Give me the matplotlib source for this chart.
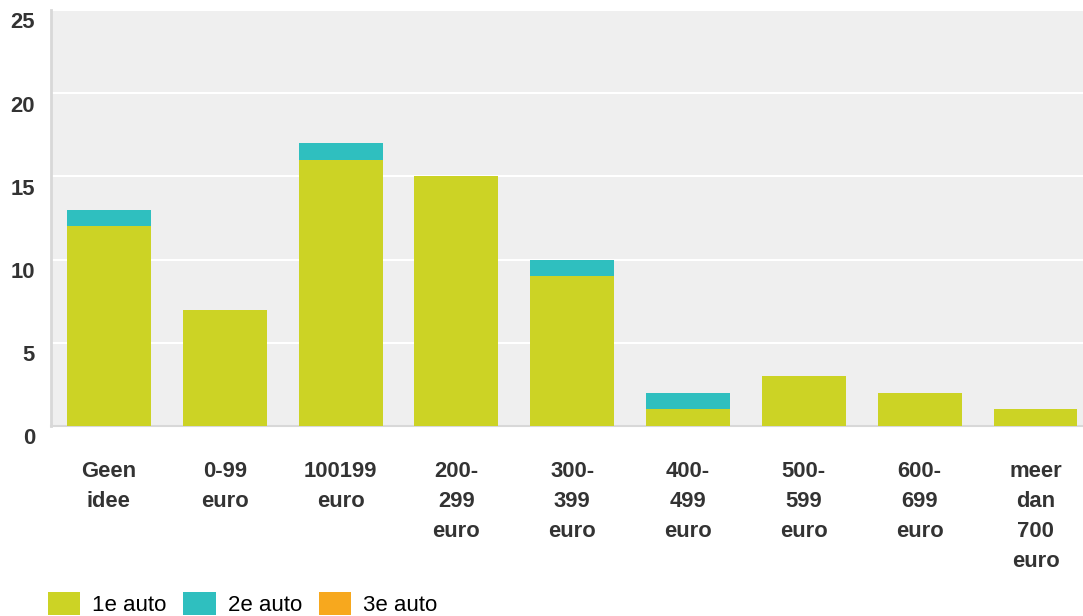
import matplotlib
matplotlib.use('Agg')
import matplotlib.pyplot as plt
import matplotlib.transforms as mtransforms
import numpy as np

plt.rcParams['font.family'] = ['Liberation Sans', 'DejaVu Sans']

# data
categories = ['Geen\nidee', '0-99\neuro', '100199\neuro', '200-\n299\neuro', '300-\n399\neuro',
              '400-\n499\neuro', '500-\n599\neuro', '600-\n699\neuro', 'meer\ndan\n700\neuro']
auto1 = [12, 7, 16, 15, 9, 1, 3, 2, 1]
auto2 = [1, 0, 1, 0, 1, 1, 0, 0, 0]
auto3 = [0, 0, 0, 0, 0, 0, 0, 0, 0]
series_names = ['1e auto', '2e auto', '3e auto']
colors = ['#ccd325', '#2fbfbf', '#f7a81e']
yticks = [0, 5, 10, 15, 20, 25]

fig = plt.figure(figsize=(10.83, 6.16), dpi=100)
ax = fig.add_axes([51/1083, 190/616, 1032/1083, 416/616])
ax.set_facecolor('#efefef')

x = np.arange(len(categories))
w = 0.725
ax.bar(x, auto1, w, color=colors[0], label=series_names[0], zorder=3)
ax.bar(x, auto2, w, bottom=auto1, color=colors[1], label=series_names[1], zorder=3)
bottom3 = np.array(auto1) + np.array(auto2)
ax.bar(x, auto3, w, bottom=bottom3, color=colors[2], label=series_names[2], zorder=3)

ax.set_ylim(0, 25)
ax.set_xlim(-0.5, 8.41)
ax.set_yticks(yticks)
ax.set_yticklabels([])
ax.yaxis.grid(True, color='white', linewidth=1.5, zorder=0)
ax.set_xticks(x)
ax.set_xticklabels(categories, fontsize=15.8, fontweight='bold', color='#333333',
                   linespacing=1.56, va='top')
ax.tick_params(axis='both', length=0)
ax.tick_params(axis='x', pad=25)

# y labels sit a bit below their grid line
offset = mtransforms.ScaledTranslation(-16/100, -13/100, fig.dpi_scale_trans)
for v in yticks:
    ax.text(0, v, str(v), transform=ax.get_yaxis_transform() + offset,
            ha='right', va='center', fontsize=15.8, fontweight='bold', color='#333333')

for s in ['top', 'right']:
    ax.spines[s].set_visible(False)
ax.spines['left'].set_color('#d8d8d8')
ax.spines['left'].set_linewidth(2)
ax.spines['bottom'].set_color('#d8d8d8')
ax.spines['bottom'].set_linewidth(1.5)

fig.legend(loc='center left', bbox_to_anchor=(48/1083, 12/616), ncol=3, frameon=False,
           borderpad=0, borderaxespad=0,
           handlelength=1.45, handleheight=1.2, handletextpad=0.55, columnspacing=0.75,
           prop={'size': 16})

fig.savefig('out.png', dpi=100)
